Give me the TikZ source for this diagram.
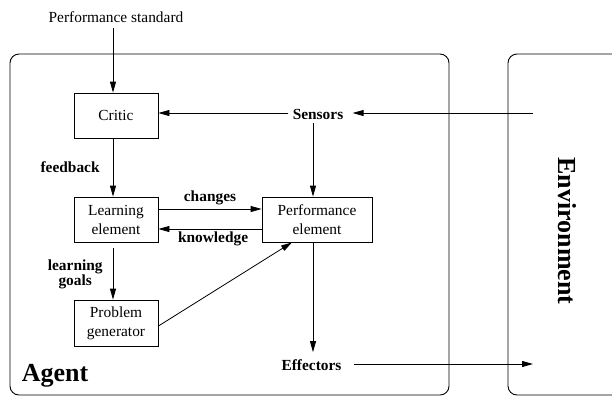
\documentclass[tikz,border=0pt]{standalone}
\usepackage{fontspec}
\setmainfont{Liberation Serif}
\usetikzlibrary{arrows.meta}
\begin{document}
\begin{tikzpicture}[x=1pt,y=-1pt,
  line width=0.8pt,
  txt/.style={font=\fontsize{15.4}{19}\selectfont, inner sep=0pt, align=center},
  lbl/.style={font=\fontsize{15.4}{13}\selectfont\bfseries, inner sep=0pt, align=center},
  unit/.style={draw, txt, minimum width=84pt, minimum height=45pt},
  arr/.style={-{Triangle[length=11pt,width=6pt]}},
  frame/.style={draw, rounded corners=9pt, line width=0.9pt}]
  \useasboundingbox (0,0) rectangle (612,397);

  % agent and environment frames
  \draw[frame] (10,54) rectangle (449,395);
  \begin{scope}
    \clip (0,0) rectangle (612,397);
    \draw[frame] (508,54) rectangle (650,395);
  \end{scope}
  \node[font=\fontsize{26}{26}\selectfont\bfseries, inner sep=0pt] (agent) at (55,376) {Agent};
  \node[font=\fontsize{26}{26}\selectfont\bfseries, inner sep=0pt, rotate=-90] (env) at (567,231) {Environment};

  % components
  \node[unit] (critic) at (116,115.5) {Critic};
  \node[unit] (learn) at (116,219.5) {Learning\\element};
  \node[unit, minimum height=46pt] (prob) at (116,323) {Problem\\generator};
  \node[unit, minimum width=110pt] (perf) at (317,219.5) {Performance\\element};

  \node[txt] (std) at (116,17) {Performance standard};
  \node[lbl] (sens) at (318,114) {Sensors};
  \node[lbl] (eff) at (311.5,365) {Effectors};
  \coordinate (envin) at (533,113);
  \coordinate (envout) at (533,364);

  % signal flow
  \draw[arr] ([xshift=-3pt]std.south |- 0,28) -- ([xshift=-3pt]critic.north);
  \draw[arr] (envin) -- ([xshift=9pt]sens.east |- envin);
  \draw[arr] ([xshift=-4pt]sens.west |- envin) -- (critic.east |- envin);
  \draw[arr] ([xshift=-5pt,yshift=-3pt]sens.south) -- ([xshift=-4pt]perf.north);
  \draw[arr] ([xshift=-3pt]critic.south) -- ([xshift=-3pt]learn.north)
    node[lbl, pos=0.5, left=13pt] (fb) {feedback};
  \draw[arr] ([yshift=10.5pt]learn.east) -- ([yshift=10.5pt]perf.west)
    node[lbl, midway, above=4pt] (chg) {changes};
  \draw[arr] ([yshift=-9.5pt]perf.west) -- ([yshift=-9.5pt]learn.east)
    node[lbl, pos=0.47, below=2pt] (know) {knowledge};
  \draw[arr] ([xshift=-3pt, yshift=-6pt]learn.south) -- ([xshift=-3pt]prob.north)
    node[lbl, pos=0.5, left=10pt] (goals) {learning\\goals};
  \draw[arr] ([yshift=-3pt]prob.east) -- ([xshift=-25pt]perf.south);
  \draw[arr] ([xshift=-4pt]perf.south) -- ([xshift=1.5pt,yshift=7pt]eff.north);
  \draw[arr] ([xshift=12pt]eff.east |- envout) -- (envout);
\end{tikzpicture}
\end{document}
